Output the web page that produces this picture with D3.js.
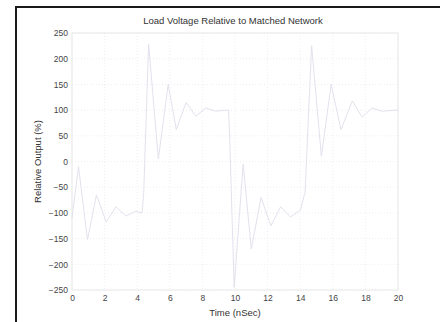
<!DOCTYPE html>
<html>
<head>
<meta charset="utf-8">
<script src="https://cdn.jsdelivr.net/npm/d3@7"></script>
<style>
html,body{margin:0;padding:0;background:#fff;}
svg{display:block;}
text{font-family:"Liberation Sans",Arial,sans-serif;}
</style>
</head>
<body>
<script>
const timeNs = [0, 0.4, 0.95, 1.5, 2.1, 2.7, 3.3, 3.9, 4.3, 4.4, 4.7, 5.3, 5.9, 6.4, 7.0, 7.6, 8.2, 8.8, 9.6, 9.65, 9.95, 10.5, 11.0, 11.6, 12.2, 12.8, 13.4, 14.0, 14.3, 14.7, 15.3, 15.9, 16.5, 17.2, 17.8, 18.4, 19.0, 20];
const relOutput = [-110, -10, -152, -65, -118, -88, -106, -97, -100, -60, 228, 5, 150, 62, 115, 88, 104, 98, 100, 70, -245, -5, -170, -70, -125, -88, -108, -95, -60, 225, 10, 150, 62, 118, 86, 104, 98, 100];
const xTicks = [0, 2, 4, 6, 8, 10, 12, 14, 16, 18, 20];
const yTicks = [-250, -200, -150, -100, -50, 0, 50, 100, 150, 200, 250];
const titleText = "Load Voltage Relative to Matched Network";
const xLabel = "Time (nSec)";
const yLabel = "Relative Output (%)";

const W = 443, H = 322;
const svg = d3.select("body").append("svg").attr("width", W).attr("height", H);

// outer frame (black top and left edges)
svg.append("line").attr("x1", 15).attr("y1", 7).attr("x2", 440).attr("y2", 7).attr("stroke", "#1a1a1a").attr("stroke-width", 2);
svg.append("line").attr("x1", 16).attr("y1", 6).attr("x2", 16).attr("y2", H).attr("stroke", "#1a1a1a").attr("stroke-width", 2);

const L = 72, R = 398, T = 33, B = 290;
const x = d3.scaleLinear().domain([0, 20]).range([L, R]);
const y = d3.scaleLinear().domain([-250, 250]).range([B, T]);

// grid
const g = svg.append("g");
g.selectAll("line.vx").data(xTicks).join("line")
  .attr("x1", d => x(d)).attr("x2", d => x(d)).attr("y1", T).attr("y2", B)
  .attr("stroke", "#eeeef2").attr("stroke-width", 1).attr("stroke-dasharray", "1,2");
g.selectAll("line.hy").data(yTicks).join("line")
  .attr("x1", L).attr("x2", R).attr("y1", d => y(d)).attr("y2", d => y(d))
  .attr("stroke", "#eeeef2").attr("stroke-width", 1).attr("stroke-dasharray", "1,2");

// axes box
svg.append("rect").attr("x", L).attr("y", T).attr("width", R - L).attr("height", B - T)
  .attr("fill", "none").attr("stroke", "#e8e8e8").attr("stroke-width", 1);

// axes via d3
const xAxis = d3.axisBottom(x).tickValues(xTicks).tickSize(0).tickPadding(5);
const yAxis = d3.axisLeft(y).tickValues(yTicks).tickSize(0).tickPadding(4);
const gx = svg.append("g").attr("transform", `translate(0,${B})`).call(xAxis);
const gy = svg.append("g").attr("transform", `translate(${L},0)`).call(yAxis);
[gx, gy].forEach(a => {
  a.select(".domain").remove();
  a.selectAll("text").attr("fill", "#444").style("font-size", "8.5px");
});

// data line
const line = d3.line().x((d, i) => x(timeNs[i])).y(d => y(d));
svg.append("path").datum(relOutput).attr("d", line)
  .attr("fill", "none").attr("stroke", "#e2e2ee").attr("stroke-width", 1);

// titles
svg.append("text").attr("x", 233).attr("y", 24).attr("text-anchor", "middle")
  .attr("fill", "#333").style("font-size", "9.5px").text(titleText);
svg.append("text").attr("x", 235).attr("y", 316).attr("text-anchor", "middle")
  .attr("fill", "#333").style("font-size", "9.5px").text(xLabel);
svg.append("text").attr("transform", `translate(41,${(T + B) / 2}) rotate(-90)`).attr("text-anchor", "middle")
  .attr("fill", "#333").style("font-size", "9.5px").text(yLabel);
</script>
</body>
</html>
